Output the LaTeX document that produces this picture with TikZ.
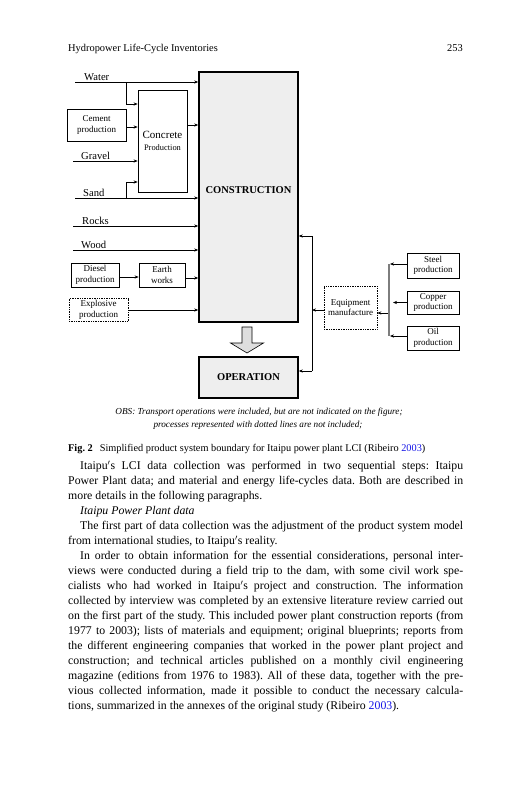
\documentclass[tikz,border=0pt]{standalone}
\usepackage{fontspec}
\setmainfont{Liberation Serif}
\usepackage{xcolor}
\usepackage{tikz}
\usetikzlibrary{arrows.meta,positioning}
\definecolor{boxgray}{RGB}{238,238,238}
\definecolor{arrowgray}{RGB}{222,222,222}
\definecolor{bargray}{RGB}{125,125,125}
\definecolor{linkblue}{RGB}{20,20,230}
\frenchspacing
\newcommand{\bodyline}[1]{\makebox[395pt][s]{#1}\par}
\newcommand{\bodyindent}[1]{\hspace*{12pt}\makebox[383pt][s]{#1}\par}
\newcommand{\bodyend}[1]{#1\par}
\newcommand{\bodyindentend}[1]{\hspace*{12pt}#1\par}
\newcommand{\ita}{Itaipu$'$s}

\begin{document}
\begin{tikzpicture}[x=1pt, y=-1pt,
  box/.style={draw, line width=0.7pt, align=center, inner sep=0.5pt, font=\fontsize{9}{10.5}\selectfont},
  dotbox/.style={box, densely dotted, line width=0.6pt},
  stage/.style={draw, line width=1.6pt, fill=boxgray, font=\bfseries\fontsize{10.5}{12}\selectfont, minimum width=99pt},
  inlabel/.style={anchor=base west, inner sep=0pt, font=\fontsize{10.6}{12}\selectfont},
  feed/.style={-{Stealth[length=4pt,width=3.2pt]}, line width=0.6pt},
  hollow/.style={draw, line width=0.6pt, fill=arrowgray},
  page/.style={inner sep=0pt}
]
  \useasboundingbox (0,0) rectangle (527,800);
  \node[page, anchor=base west, font=\fontsize{10.4}{12}\selectfont] (runhead) at (68,51.5) {Hydropower Life-Cycle Inventories};
  \node[page, anchor=base east, font=\fontsize{10.4}{12}\selectfont] (folio) at (463,51.5) {253};

  \node[stage, minimum height=250pt, text height=7.5pt, text depth=14.5pt] (construction) at (248.5,197) {CONSTRUCTION};
  \node[stage, minimum height=41pt] (operation) at (248.5,377.5) {OPERATION};
  \draw[hollow] (242,327) -- (252,327) -- (252,343) -- (263.5,343) -- (247,353) -- (230.5,343) -- (242,343) -- cycle;

  \node[box, minimum width=49pt, minimum height=102pt] (concrete) at (162.5,141) {{\fontsize{11}{13}\selectfont Concrete}\\[1pt]{\fontsize{8.4}{10}\selectfont Production}};
  \node[box, minimum width=59pt, minimum height=32pt] (cement) at (96.5,125) {Cement\\production};
  \node[box, minimum width=48pt, minimum height=24pt] (diesel) at (95,275) {Diesel\\production};
  \node[box, minimum width=46pt, minimum height=24pt] (earth) at (162,275) {Earth\\works};
  \node[dotbox, minimum width=59pt, minimum height=23pt] (explosive) at (98.5,310) {Explosive\\production};
  \node[dotbox, minimum width=53pt, minimum height=43pt] (equipment) at (350.5,307.5) {Equipment\\manufacture};
  \node[box, minimum width=52pt, minimum height=25pt] (steel) at (433,265.5) {Steel\\production};
  \node[box, minimum width=52pt, minimum height=23pt] (copper) at (433,302.5) {Copper\\production};
  \node[box, minimum width=52pt, minimum height=24pt] (oil) at (433,338) {Oil\\production};

  \coordinate (water) at (75,82);
  \coordinate (waterfork) at (126,82);
  \coordinate (waterdrop) at (126,104);
  \coordinate (gravel) at (73,161);
  \coordinate (sand) at (75,198);
  \coordinate (sandfork) at (126,198);
  \coordinate (sandrise) at (126,182);
  \coordinate (rocks) at (73,226);
  \coordinate (wood) at (73,250);
  \node[inlabel] (waterlabel) at (84,80.5) {Water};
  \node[inlabel] (gravellabel) at (81,159.5) {Gravel};
  \node[inlabel] (sandlabel) at (83,196.5) {Sand};
  \node[inlabel] (rockslabel) at (82,224.5) {Rocks};
  \node[inlabel] (woodlabel) at (81,248.5) {Wood};

  \draw[feed] (water) -- (water -| construction.west);
  \draw[feed] (waterfork) -- (waterdrop) -- (waterdrop -| concrete.west);
  \draw[feed] ([yshift=-2pt]cement.east) -- ([yshift=-2pt]cement.east -| concrete.west);
  \draw[feed] (gravel) -- (gravel -| concrete.west);
  \draw[feed] (sand) -- (sand -| construction.west);
  \draw[feed] (sandfork) -- (sandrise) -- (sandrise -| concrete.west);
  \draw[feed] ([yshift=16pt]concrete.east) -- ([yshift=16pt]concrete.east -| construction.west);
  \draw[feed] (rocks) -- (rocks -| construction.west);
  \draw[feed] (wood) -- (wood -| construction.west);
  \draw[feed] ([yshift=-2pt]diesel.east) -- ([yshift=-2pt]diesel.east -| earth.west);
  \draw[feed] ([yshift=-3pt]earth.east) -- ([yshift=-3pt]earth.east -| construction.west);
  \draw[feed] (explosive.east) -- (explosive.east -| construction.west);

  \coordinate (railtop) at (312,236);
  \coordinate (railbot) at (312,371);
  \draw[line width=0.6pt] (railtop) -- (railbot);
  \draw[feed] (railtop) -- (railtop -| construction.east);
  \draw[feed] (railbot) -- (railbot -| operation.east);
  \draw[feed] ([yshift=-2.5pt]equipment.west) -- ([yshift=-2.5pt]equipment.west -| railtop);

  \coordinate (bartop) at (389,264);
  \coordinate (barbot) at (389,336);
  \draw[bargray, line width=1.6pt] (bartop) -- (barbot);
  \draw[feed] ([yshift=1.5pt]steel.west) -- ([yshift=1.5pt,xshift=1pt]steel.west -| bartop);
  \draw[feed] (copper.west) -- ([xshift=4pt]copper.west -| bartop);
  \draw[feed] ([yshift=2pt]oil.west) -- ([yshift=2pt,xshift=1pt]oil.west -| bartop);
  \draw[feed] ([yshift=-5.5pt,xshift=-1pt]equipment.east -| bartop) -- ([yshift=-5.5pt]equipment.east);

  \node[page, anchor=base, font=\itshape\fontsize{9.2}{11}\selectfont] (obsone) at (259,414) {OBS: Transport operations were included, but are not indicated on the figure;};
  \node[page, anchor=base, font=\itshape\fontsize{9.2}{11}\selectfont] (obstwo) at (258,427) {processes represented with dotted lines are not included;};
  \node[page, anchor=base west, font=\fontsize{10.3}{12}\selectfont] (caption) at (68,451.5) {\textbf{Fig. 2}\hspace{7pt}Simplified product system boundary for Itaipu power plant LCI (Ribeiro \textcolor{linkblue}{2003})};

  \node[page, anchor=base west] (body) at (68,469.5) {\parbox[t]{395pt}{\fontsize{11.8}{15}\selectfont\frenchspacing\setlength{\parindent}{0pt}%
    \bodyindent{\ita{} LCI data collection was performed in two sequential steps: Itaipu}
    \bodyline{Power Plant data; and material and energy life-cycles data. Both are described in}
    \bodyend{more details in the following paragraphs.}
    \bodyindentend{\textit{Itaipu Power Plant data}}
    \bodyindent{The first part of data collection was the adjustment of the product system model}
    \bodyend{from international studies, to \ita{} reality.}
    \bodyindent{In order to obtain information for the essential considerations, personal inter-}
    \bodyline{views were conducted during a field trip to the dam, with some civil work spe-}
    \bodyline{cialists who had worked in \ita{} project and construction. The information}
    \bodyline{collected by interview was completed by an extensive literature review carried out}
    \bodyline{on the first part of the study. This included power plant construction reports (from}
    \bodyline{1977 to 2003); lists of materials and equipment; original blueprints; reports from}
    \bodyline{the different engineering companies that worked in the power plant project and}
    \bodyline{construction; and technical articles published on a monthly civil engineering}
    \bodyline{magazine (editions from 1976 to 1983). All of these data, together with the pre-}
    \bodyline{vious collected information, made it possible to conduct the necessary calcula-}
    \bodyend{tions, summarized in the annexes of the original study (Ribeiro \textcolor{linkblue}{2003}).}}};
\end{tikzpicture}
\end{document}
